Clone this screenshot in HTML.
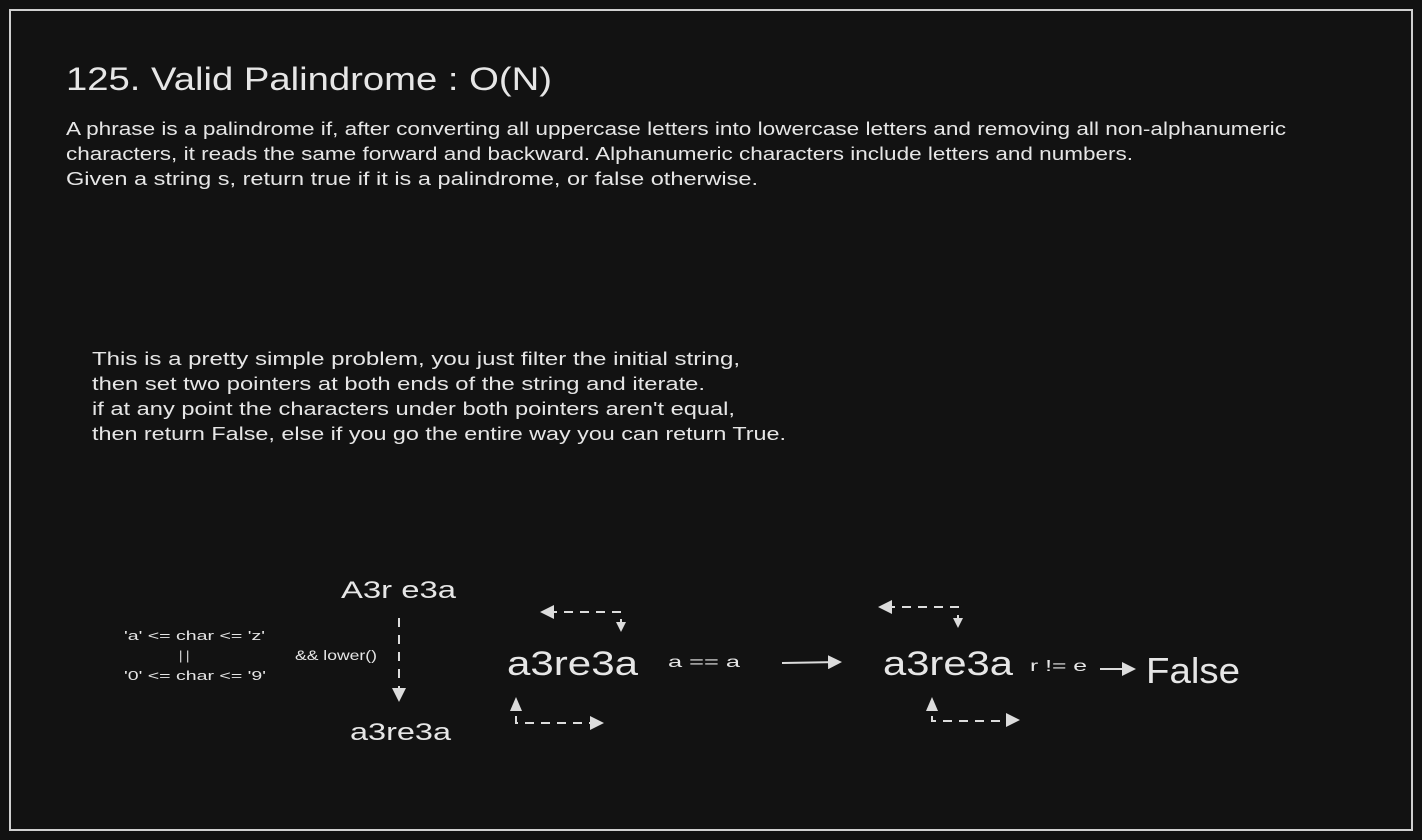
<!DOCTYPE html>
<html><head><meta charset="utf-8"><style>
html,body{margin:0;padding:0;background:#121212;}
svg{display:block}
text{font-family:"Liberation Sans",sans-serif;fill:#e6e6e6;}
</style></head><body>
<svg width="1422" height="840" viewBox="0 0 1422 840" xmlns="http://www.w3.org/2000/svg">
<defs>
<marker id="ah" markerWidth="10" markerHeight="10" refX="8" refY="5" orient="auto" markerUnits="userSpaceOnUse"><path d="M0,0 L10,5 L0,10 z" fill="#dcdcdc"/></marker>
<marker id="ah2" markerWidth="14" markerHeight="14" refX="12" refY="7" orient="auto" markerUnits="userSpaceOnUse"><path d="M0,0 L14,7 L0,14 z" fill="#dcdcdc"/></marker>
</defs>
<rect width="1422" height="840" fill="#121212"/>
<rect x="10" y="10" width="1402" height="820" fill="none" stroke="#d0d0d0" stroke-width="2"/>

<text x="66" y="90" font-size="32" textLength="486" lengthAdjust="spacingAndGlyphs">125. Valid Palindrome : O(N)</text>
<text x="66" y="135" font-size="18" textLength="1220" lengthAdjust="spacingAndGlyphs">A phrase is a palindrome if, after converting all uppercase letters into lowercase letters and removing all non-alphanumeric</text>
<text x="66" y="160" font-size="18" textLength="1067" lengthAdjust="spacingAndGlyphs">characters, it reads the same forward and backward. Alphanumeric characters include letters and numbers.</text>
<text x="66" y="185" font-size="18" textLength="692" lengthAdjust="spacingAndGlyphs">Given a string s, return true if it is a palindrome, or false otherwise.</text>

<text x="92" y="365" font-size="18" textLength="648" lengthAdjust="spacingAndGlyphs">This is a pretty simple problem, you just filter the initial string,</text>
<text x="92" y="390" font-size="18" textLength="613" lengthAdjust="spacingAndGlyphs">then set two pointers at both ends of the string and iterate.</text>
<text x="92" y="415" font-size="18" textLength="643" lengthAdjust="spacingAndGlyphs">if at any point the characters under both pointers aren't equal,</text>
<text x="92" y="440" font-size="18" textLength="694" lengthAdjust="spacingAndGlyphs">then return False, else if you go the entire way you can return True.</text>

<text x="341" y="598" font-size="24" textLength="115" lengthAdjust="spacingAndGlyphs">A3r e3a</text>
<text x="350" y="740" font-size="24" textLength="101" lengthAdjust="spacingAndGlyphs">a3re3a</text>
<line x1="399" y1="618" x2="399" y2="700" stroke="#dcdcdc" stroke-width="2" stroke-dasharray="9,8" marker-end="url(#ah2)"/>
<text x="295" y="660" font-size="14" textLength="82" lengthAdjust="spacingAndGlyphs">&amp;&amp; lower()</text>
<text x="124" y="640" font-size="13" textLength="141" lengthAdjust="spacingAndGlyphs">'a' &lt;= char &lt;= 'z'</text>
<text x="179" y="660" font-size="13">| |</text>
<text x="124" y="680" font-size="13" textLength="142" lengthAdjust="spacingAndGlyphs">'0' &lt;= char &lt;= '9'</text>

<text x="507" y="675" font-size="34" textLength="131" lengthAdjust="spacingAndGlyphs">a3re3a</text>
<polyline points="621,628 621,612 542,612" fill="none" stroke="#dcdcdc" stroke-width="2" stroke-dasharray="9,7"/>
<path d="M540,612 L554,605 L554,619 z" fill="#dcdcdc"/>
<path d="M621,632 L616,622 L626,622 z" fill="#dcdcdc"/>
<polyline points="516,700 516,723 600,723" fill="none" stroke="#dcdcdc" stroke-width="2" stroke-dasharray="9,7"/>
<path d="M516,697 L510,711 L522,711 z" fill="#dcdcdc"/>
<path d="M604,723 L590,716 L590,730 z" fill="#dcdcdc"/>

<text x="668" y="667" font-size="16" textLength="72" lengthAdjust="spacingAndGlyphs">a == a</text>
<line x1="782" y1="663" x2="840" y2="662" stroke="#dcdcdc" stroke-width="2" marker-end="url(#ah2)"/>

<text x="883" y="675" font-size="34" textLength="130" lengthAdjust="spacingAndGlyphs">a3re3a</text>
<polyline points="958,624 958,607 880,607" fill="none" stroke="#dcdcdc" stroke-width="2" stroke-dasharray="9,7"/>
<path d="M878,607 L892,600 L892,614 z" fill="#dcdcdc"/>
<path d="M958,628 L953,618 L963,618 z" fill="#dcdcdc"/>
<polyline points="932,700 932,721 1016,721" fill="none" stroke="#dcdcdc" stroke-width="2" stroke-dasharray="9,7"/>
<path d="M932,697 L926,711 L938,711 z" fill="#dcdcdc"/>
<path d="M1020,720 L1006,713 L1006,727 z" fill="#dcdcdc"/>

<text x="1030" y="671" font-size="16" textLength="57" lengthAdjust="spacingAndGlyphs">r != e</text>
<line x1="1100" y1="669" x2="1134" y2="669" stroke="#dcdcdc" stroke-width="2" marker-end="url(#ah2)"/>
<text x="1146" y="683" font-size="36" textLength="94" lengthAdjust="spacingAndGlyphs">False</text>
</svg>
</body></html>
